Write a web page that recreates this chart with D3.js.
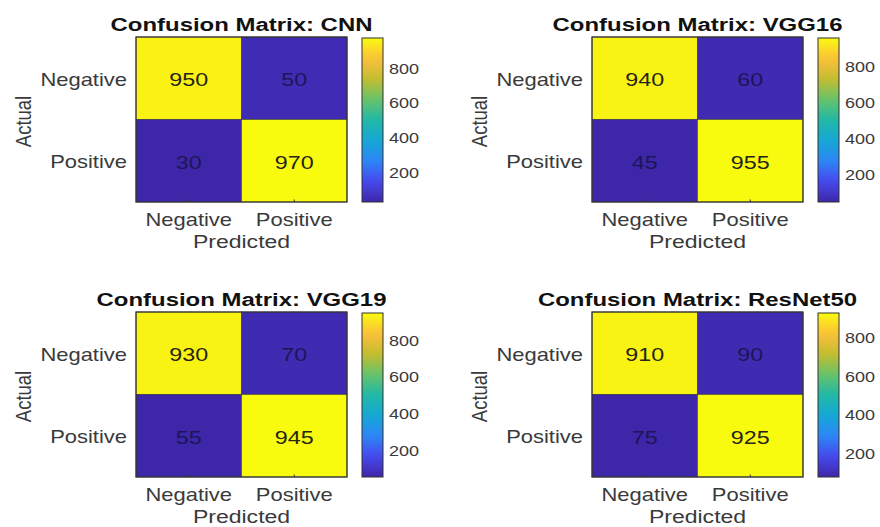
<!DOCTYPE html>
<html>
<head>
<meta charset="utf-8">
<script src="https://cdn.jsdelivr.net/npm/d3@7"></script>
<style>
  html, body { margin: 0; padding: 0; background: #fff; }
  svg { display: block; }
  text { font-family: "Liberation Sans", Arial, Helvetica, sans-serif; }
</style>
</head>
<body>
<svg id="chart" width="880" height="527"></svg>
<script>
// ---------------- data ----------------
const models = ["CNN", "VGG16", "VGG19", "ResNet50"];
const actualClasses = ["Negative", "Positive"];
const predictedClasses = ["Negative", "Positive"];
const cnnValues      = [[950, 50], [30, 970]];
const vgg16Values    = [[940, 60], [45, 955]];
const vgg19Values    = [[930, 70], [55, 945]];
const resnet50Values = [[910, 90], [75, 925]];
const colorbarTicks = [200, 400, 600, 800];
const matrices = [cnnValues, vgg16Values, vgg19Values, resnet50Values];

// ---------------- style / layout ----------------
const W = 880, H = 527;
const matW = 211, matH = 165;
const panelOrigins = [[136, 37], [592, 37], [136, 312], [592, 312]];
const cbGap = 15, cbW = 21;

// parula colormap (MATLAB)
const parulaStops = [
  [0.000, "#3e26a8"],
  [0.125, "#4748ee"],
  [0.250, "#2d86f6"],
  [0.375, "#14a8d6"],
  [0.500, "#22b8a6"],
  [0.625, "#66c36a"],
  [0.750, "#c3bd30"],
  [0.875, "#fcbf3a"],
  [1.000, "#f9fb0e"]
];
const parula = d3.scaleLinear()
  .domain(parulaStops.map(d => d[0]))
  .range(parulaStops.map(d => d[1]))
  .interpolate(d3.interpolateRgb)
  .clamp(true);

const svg = d3.select("#chart");
const defs = svg.append("defs");

matrices.forEach((vals, k) => {
  const [mx, my] = panelOrigins[k];
  const flat = vals.flat();
  const vmin = d3.min(flat), vmax = d3.max(flat);
  const tnorm = d3.scaleLinear().domain([vmin, vmax]).range([0, 1]);
  const color = v => parula(tnorm(v));

  const g = svg.append("g").attr("transform", `translate(${mx},${my})`);

  const x = d3.scaleBand().domain(predictedClasses).range([0, matW]).padding(0);
  const y = d3.scaleBand().domain(actualClasses).range([0, matH]).padding(0);

  const cells = [];
  actualClasses.forEach((a, i) => predictedClasses.forEach((p, j) => {
    cells.push({ a, p, v: vals[i][j] });
  }));

  g.selectAll("rect.cell").data(cells).join("rect")
    .attr("class", "cell")
    .attr("x", d => x(d.p)).attr("y", d => y(d.a))
    .attr("width", x.bandwidth()).attr("height", y.bandwidth())
    .attr("fill", d => color(d.v))
    .attr("stroke", "#3a3a3a").attr("stroke-width", 0.6);

  g.selectAll("text.val").data(cells).join("text")
    .attr("class", "val")
    .attr("transform", d => `translate(${x(d.p) + x.bandwidth() / 2},${y(d.a) + y.bandwidth() / 2 + 1.5}) scale(1.26,1)`)
    .attr("text-anchor", "middle")
    .attr("dy", "0.36em")
    .attr("font-size", 18.5)
    .attr("fill", d => tnorm(d.v) > 0.5 ? "#262418" : "#1c1658")
    .text(d => d.v);

  // frame
  g.append("rect").attr("width", matW).attr("height", matH)
    .attr("fill", "none").attr("stroke", "#333").attr("stroke-width", 1.2);

  // small inward ticks at bottom
  g.selectAll("line.xt").data(predictedClasses).join("line")
    .attr("x1", d => x(d) + x.bandwidth() / 2).attr("x2", d => x(d) + x.bandwidth() / 2)
    .attr("y1", matH).attr("y2", matH - 2.5)
    .attr("stroke", "#333").attr("stroke-width", 1);

  // x axis labels
  const xAxis = g.append("g").attr("transform", `translate(0,${matH})`)
    .call(d3.axisBottom(x).tickSize(0).tickPadding(0));
  xAxis.select(".domain").remove();
  xAxis.selectAll("text")
    .attr("font-size", 18).attr("fill", "#3a3a3a")
    .attr("y", 0).attr("dy", 0)
    .attr("transform", `translate(0,24) scale(1.22,1)`);

  // y axis labels
  const yAxis = g.append("g").call(d3.axisLeft(y).tickSize(0).tickPadding(0));
  yAxis.select(".domain").remove();
  yAxis.selectAll("text")
    .attr("font-size", 18).attr("fill", "#3a3a3a")
    .attr("x", 0).attr("dy", "0.36em")
    .attr("transform", `translate(-9,1) scale(1.22,1)`);

  // title
  g.append("text")
    .attr("transform", `translate(${matW / 2},-6) scale(1.26,1)`)
    .attr("text-anchor", "middle")
    .attr("font-size", 19)
    .attr("font-weight", "bold")
    .attr("fill", "#111")
    .text(`Confusion Matrix: ${models[k]}`);

  // x title
  g.append("text")
    .attr("transform", `translate(${matW / 2},${matH + 46}) scale(1.28,1)`)
    .attr("text-anchor", "middle")
    .attr("font-size", 18)
    .attr("fill", "#3a3a3a")
    .text("Predicted");

  // y title
  g.append("text")
    .attr("transform", `translate(-105,${matH / 2 + 2}) scale(1.2,1) rotate(-90)`)
    .attr("text-anchor", "middle")
    .attr("font-size", 18.5)
    .attr("fill", "#3a3a3a")
    .text("Actual");

  // colorbar
  const cbx = matW + cbGap;
  const cbScale = d3.scaleLinear().domain([vmin, vmax]).range([matH, 1]);
  const gid = `cbgrad${k}`;
  const grad = defs.append("linearGradient").attr("id", gid)
    .attr("x1", 0).attr("y1", 1).attr("x2", 0).attr("y2", 0);
  d3.range(0, 1.0001, 0.05).forEach(t => {
    grad.append("stop").attr("offset", t).attr("stop-color", parula(t));
  });
  const cb = g.append("g").attr("transform", `translate(${cbx},0)`);
  cb.append("rect").attr("x", 0).attr("y", 1).attr("width", cbW).attr("height", matH - 1)
    .attr("fill", `url(#${gid})`).attr("stroke", "#333").attr("stroke-width", 1);
  const cbAxis = cb.append("g").attr("transform", `translate(${cbW},0)`)
    .call(d3.axisRight(cbScale).tickValues(colorbarTicks).tickSize(0).tickPadding(0));
  cbAxis.select(".domain").remove();
  cbAxis.selectAll("text")
    .attr("font-size", 15).attr("fill", "#3a3a3a")
    .attr("x", 0).attr("dy", "0.36em")
    .attr("text-anchor", "start")
    .attr("transform", `translate(6,0) scale(1.2,1)`);
});
</script>
</body>
</html>
